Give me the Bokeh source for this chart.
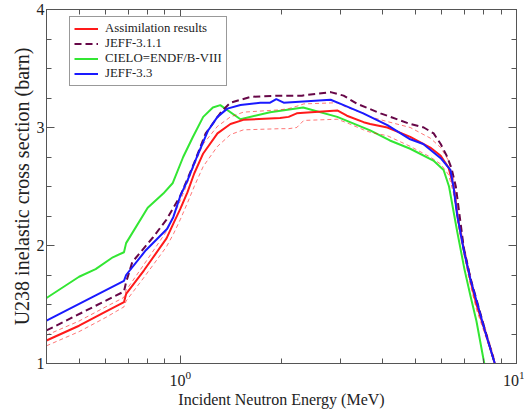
from bokeh.plotting import figure
from bokeh.models import (Range1d, LogAxis, LinearAxis, FixedTicker, SingleIntervalTicker,
                          Legend, LegendItem)
from bokeh.embed import file_html
from bokeh.resources import INLINE

# ---------------- data ----------------
x_assim = [0.40, 0.50, 0.60, 0.68, 0.69, 0.78, 0.91, 0.955, 1.00, 1.05, 1.10, 1.17, 1.29, 1.41,
           1.54, 1.98, 2.10, 2.22, 2.33, 2.93, 3.13, 3.51, 3.67, 4.13, 4.83, 5.54, 5.95, 6.28,
           6.50, 6.70, 7.00, 7.30, 7.60, 8.05, 8.62]
y_assim = [1.195, 1.32, 1.44, 1.52, 1.59, 1.79, 2.06, 2.19, 2.31, 2.45, 2.61, 2.78, 2.95, 3.03,
           3.065, 3.08, 3.09, 3.12, 3.125, 3.145, 3.10, 3.045, 3.03, 3.00, 2.92, 2.83, 2.76, 2.66,
           2.50, 2.22, 1.94, 1.70, 1.50, 1.28, 1.00]
y_assim_hi = [1.24, 1.36, 1.48, 1.56, 1.62, 1.84, 2.12, 2.25, 2.38, 2.53, 2.68, 2.86, 3.01, 3.09,
              3.13, 3.15, 3.16, 3.18, 3.20, 3.21, 3.17, 3.12, 3.09, 3.05, 3.00, 2.91, 2.83, 2.72,
              2.56, 2.26, 1.98, 1.74, 1.54, 1.31, 1.03]
y_assim_lo = [1.15, 1.27, 1.39, 1.48, 1.53, 1.73, 1.99, 2.10, 2.22, 2.36, 2.50, 2.67, 2.84, 2.94,
              2.98, 2.99, 2.99, 3.00, 3.06, 3.07, 3.04, 2.98, 2.96, 2.93, 2.84, 2.75, 2.69, 2.60,
              2.44, 2.18, 1.90, 1.66, 1.46, 1.25, 1.00]

x_jeff311 = [0.40, 0.68, 0.69, 0.72, 0.83, 0.91, 1.00, 1.10, 1.19, 1.33, 1.41, 1.62, 1.98, 2.30,
             2.80, 3.06, 3.36, 3.94, 4.83, 5.30, 5.67, 5.95, 6.20, 6.40, 6.60, 6.97, 7.30, 7.64,
             8.05, 8.62]
y_jeff311 = [1.28, 1.61, 1.69, 1.86, 2.07, 2.22, 2.42, 2.70, 2.95, 3.14, 3.21, 3.26, 3.27, 3.27,
             3.30, 3.27, 3.20, 3.12, 3.03, 3.00, 2.95, 2.86, 2.76, 2.66, 2.50, 1.98, 1.72, 1.52,
             1.29, 1.00]

x_cielo = [0.40, 0.50, 0.56, 0.63, 0.68, 0.69, 0.80, 0.89, 0.95, 1.02, 1.09, 1.17, 1.25, 1.315,
           1.51, 1.85, 2.32, 2.93, 3.67, 4.20, 4.83, 5.66, 6.07, 6.30, 6.66, 7.00, 7.30, 7.60, 8.02]
y_cielo = [1.555, 1.735, 1.80, 1.90, 1.943, 2.02, 2.32, 2.44, 2.53, 2.75, 2.92, 3.09, 3.17, 3.19,
           3.07, 3.13, 3.17, 3.09, 2.975, 2.89, 2.82, 2.72, 2.64, 2.50, 2.12, 1.80, 1.57, 1.36, 1.00]

x_jeff33 = [0.40, 0.68, 0.69, 0.79, 0.913, 0.953, 1.00, 1.05, 1.12, 1.21, 1.29, 1.38, 1.51, 1.73,
            1.85, 1.93, 2.03, 2.80, 3.00, 3.50, 4.13, 4.83, 5.28, 5.95, 6.36, 6.50, 6.66, 6.97,
            7.30, 7.64, 8.05, 8.62]
y_jeff33 = [1.364, 1.70, 1.75, 1.96, 2.14, 2.24, 2.42, 2.55, 2.75, 2.975, 3.09, 3.16, 3.19, 3.21,
            3.21, 3.24, 3.21, 3.235, 3.20, 3.12, 3.02, 2.90, 2.86, 2.74, 2.64, 2.49, 2.26, 1.96,
            1.71, 1.51, 1.28, 1.00]

series_labels = ["Assimilation results", "JEFF-3.1.1", "CIELO=ENDF/B-VIII", "JEFF-3.3"]
x_title = "Incident Neutron Energy (MeV)"
y_title = "U238 inelastic cross section (barn)"
x_major = [1, 10]
x_minor = [0.4, 0.5, 0.6, 0.7, 0.8, 0.9, 2, 3, 4, 5, 6, 7, 8, 9]

# ---------------- styling ----------------
FONT = "Liberation Serif"
AX = "#555555"
TXT = "#222222"
RED = "#ff1a1a"
MAROON = "#670748"
GREEN = "#33e633"
BLUE = "#1a1aff"

p = figure(width=524, height=412, x_axis_type="log",
           x_range=Range1d(0.4, 10), y_range=Range1d(1, 4),
           output_backend="svg", toolbar_location=None,
           min_border_left=46, min_border_right=8, min_border_top=9, min_border_bottom=49)
p.xgrid.visible = False
p.ygrid.visible = False
p.outline_line_color = AX
p.outline_line_width = 1
p.background_fill_color = "white"
p.border_fill_color = "white"

def style_axis(ax):
    ax.axis_line_color = AX
    ax.major_tick_line_color = AX
    ax.minor_tick_line_color = AX
    ax.major_tick_in = 8
    ax.major_tick_out = 0
    ax.minor_tick_in = 5
    ax.minor_tick_out = 0
    ax.major_label_text_font = FONT
    ax.major_label_text_color = TXT
    ax.major_label_text_font_size = "16px"

xticker = FixedTicker(ticks=x_major, minor_ticks=x_minor)
yticker = SingleIntervalTicker(interval=1, num_minor_ticks=4)

xa = p.xaxis[0]
xa.ticker = xticker
style_axis(xa)
xa.major_label_standoff = 7
xa.axis_label = x_title
xa.axis_label_text_font = FONT
xa.axis_label_text_font_style = "normal"
xa.axis_label_text_font_size = "16px"
xa.axis_label_text_color = TXT
xa.axis_label_standoff = 2

ya = p.yaxis[0]
ya.ticker = yticker
style_axis(ya)
ya.major_label_standoff = 2
ya.axis_label = y_title
ya.axis_label_text_font = FONT
ya.axis_label_text_font_style = "normal"
ya.axis_label_text_font_size = "20px"
ya.axis_label_text_color = TXT
ya.axis_label_standoff = 1

top = LogAxis(ticker=xticker)
style_axis(top)
top.major_label_text_font_size = "1px"
top.major_label_text_alpha = 0
top.major_label_standoff = 0
p.add_layout(top, "above")
right = LinearAxis(ticker=yticker)
style_axis(right)
right.major_label_text_font_size = "1px"
right.major_label_text_alpha = 0
right.major_label_standoff = 0
p.add_layout(right, "right")

# ---------------- lines ----------------
r_green = p.line(x_cielo, y_cielo, line_color=GREEN, line_width=2)
r_hi = p.line(x_assim, y_assim_hi, line_color=RED, line_width=1, line_dash="4 3", line_alpha=0.6)
r_lo = p.line(x_assim, y_assim_lo, line_color=RED, line_width=1, line_dash="4 3", line_alpha=0.6)
r_red = p.line(x_assim, y_assim, line_color=RED, line_width=2)
r_maroon = p.line(x_jeff311, y_jeff311, line_color=MAROON, line_width=2, line_dash="7 4")
r_blue = p.line(x_jeff33, y_jeff33, line_color=BLUE, line_width=2)

legend = Legend(items=[
    LegendItem(label=series_labels[0], renderers=[r_red]),
    LegendItem(label=series_labels[1], renderers=[r_maroon]),
    LegendItem(label=series_labels[2], renderers=[r_green]),
    LegendItem(label=series_labels[3], renderers=[r_blue]),
], location=(23, 277))
legend.label_text_font = FONT
legend.label_text_font_size = "12.8px"
legend.label_text_color = TXT
legend.label_height = 13
legend.glyph_height = 13
legend.glyph_width = 24
legend.label_standoff = 7
legend.spacing = 0
legend.padding = 4
legend.margin = 0
legend.border_line_color = "#333333"
legend.border_line_width = 1
legend.background_fill_color = "white"
legend.background_fill_alpha = 1
p.add_layout(legend, "center")

open("out.html", "w").write(file_html(p, INLINE))
